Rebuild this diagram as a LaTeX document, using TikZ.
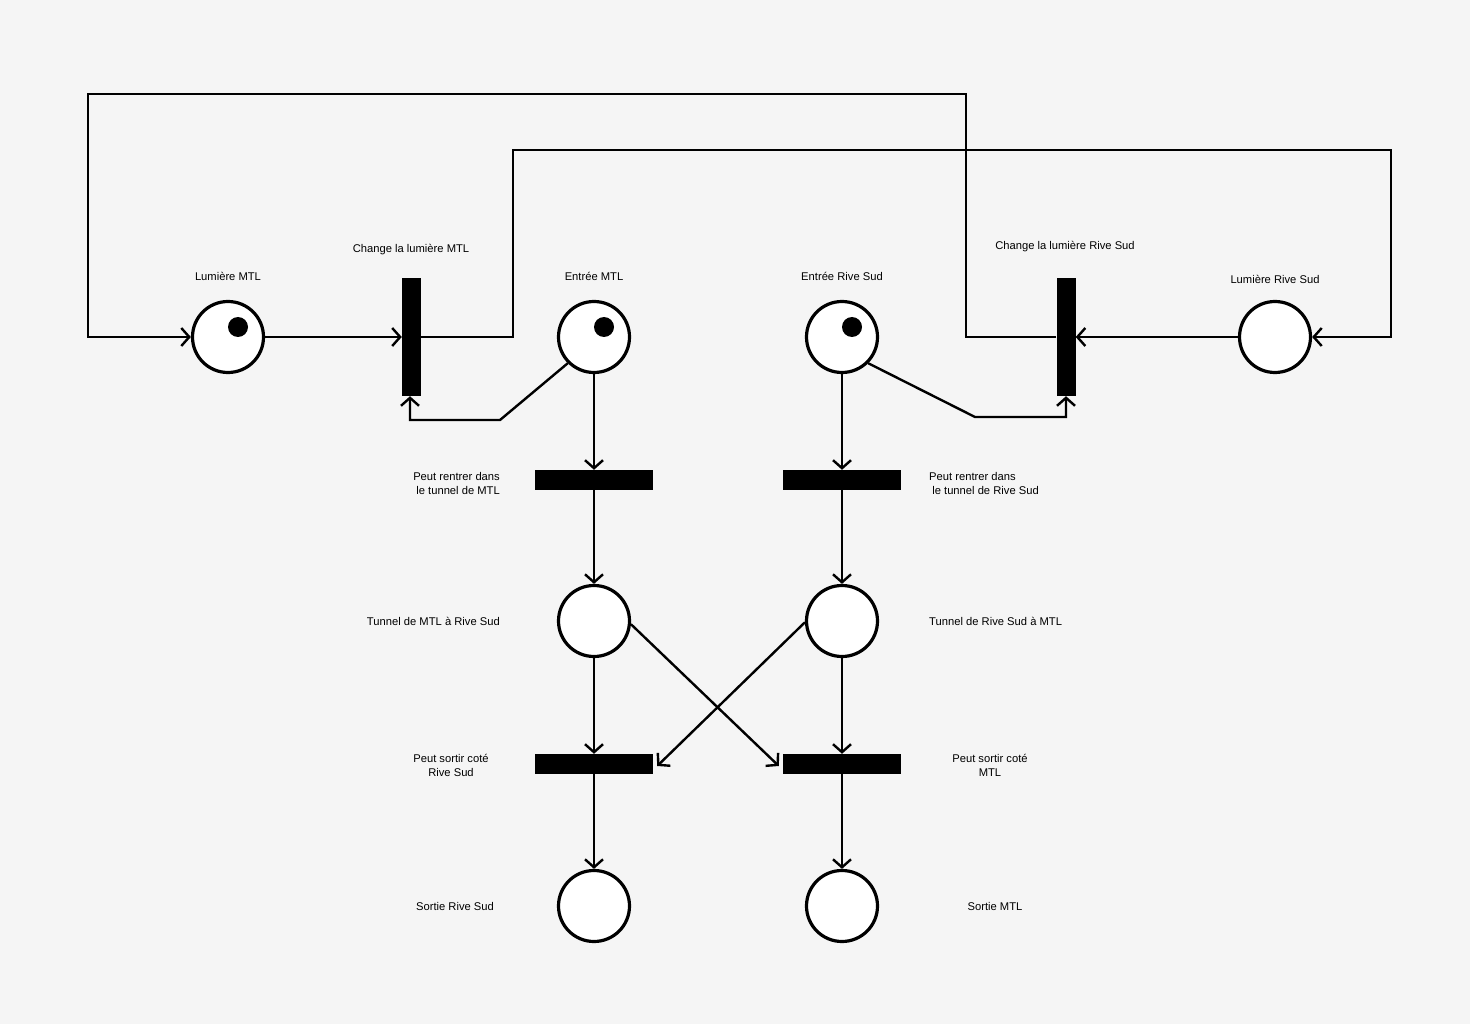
\documentclass[tikz,border=0pt]{standalone}
\usepackage{fontspec}
\setmainfont{Liberation Sans}
\usetikzlibrary{arrows.meta}
\definecolor{bg}{HTML}{F5F5F5}
\tikzset{
  place/.style={circle, draw=black, line width=3.2pt, fill=white, minimum size=71pt, inner sep=0pt},
  token/.style={circle, fill=black, minimum size=20pt, inner sep=0pt},
  vtrans/.style={rectangle, fill=black, minimum width=19pt, minimum height=118pt, inner sep=0pt},
  htrans/.style={rectangle, fill=black, minimum width=118pt, minimum height=20pt, inner sep=0pt},
  lbl/.style={font=\fontsize{11.2}{14}\selectfont, inner sep=0pt},
  arc/.style={line width=2.4pt, -{Straight Barb[length=8pt,width=18pt,line width=2.4pt]}},
  plain/.style={line width=2.4pt}
}
\begin{document}
\begin{tikzpicture}[x=1pt,y=-1pt]
\fill[bg] (0,0) rectangle (1470,1024);
\useasboundingbox (0,0) rectangle (1470,1024);

% places
\node[place] (lumMTL) at (228,337) {};
\node[place] (entMTL) at (594,337) {};
\node[place] (entRS) at (842,337) {};
\node[place] (lumRS) at (1275,337) {};
\node[place] (tunMTL) at (594,621) {};
\node[place] (tunRS) at (842,621) {};
\node[place] (sorRS) at (594,906) {};
\node[place] (sorMTL) at (842,906) {};

% tokens
\node[token] (tk1) at (238,327) {};
\node[token] (tk2) at (604,327) {};
\node[token] (tk3) at (852,327) {};

% transitions
\node[vtrans] (chMTL) at (411.5,337) {};
\node[vtrans] (chRS) at (1066,337) {};
\node[htrans] (inMTL) at (594,480) {};
\node[htrans] (inRS) at (842,480) {};
\node[htrans] (outRS) at (594,764) {};
\node[htrans] (outMTL) at (842,764) {};

% labels
\node[lbl] (l1) at (228,276) {Lumière MTL};
\node[lbl] (l2) at (411,250) {Change la lumière MTL};
\node[lbl] (l3) at (594,276) {Entrée MTL};
\node[lbl] (l4) at (842,276) {Entrée Rive Sud};
\node[lbl] (l5) at (1065,247) {Change la lumière Rive Sud};
\node[lbl] (l6) at (1275,279) {Lumière Rive Sud};
\node[lbl, anchor=east, align=right] (l7) at (500,483) {Peut rentrer dans\\le tunnel de MTL};
\node[lbl, anchor=west, align=left] (l8) at (929,483) {Peut rentrer dans\\\ le tunnel de Rive Sud};
\node[lbl, anchor=east] (l9) at (500,621) {Tunnel de MTL à Rive Sud};
\node[lbl, anchor=west] (l10) at (929,621) {Tunnel de Rive Sud à MTL};
\node[lbl, align=center] (l11) at (451,765) {Peut sortir coté\\Rive Sud};
\node[lbl, align=center] (l12) at (990,765) {Peut sortir coté\\MTL};
\node[lbl] (l13) at (455,906) {Sortie Rive Sud};
\node[lbl] (l14) at (995,906) {Sortie MTL};

% helper coordinates
\coordinate (c1) at (966,94);
\coordinate (c2) at (88,94);
\coordinate (c3) at (513,150);
\coordinate (c4) at (1391,150);
\coordinate (k1) at (500,420);
\coordinate (k2) at (975,417);

% connectors
\draw[arc] (chRS.west) -| (c1) -- (c2) |- (lumMTL.west);
\draw[arc] (lumMTL) -- (chMTL.west);
\draw[arc] (chMTL.east) -| (c3) -- (c4) |- (lumRS.east);
\draw[arc] (lumRS) -- (chRS.east);
\draw[arc] (entMTL.225) -- (k1) -| ([xshift=-1.5pt]chMTL.south);
\draw[arc] (entRS.-45) -- (k2) -| (chRS.south);
\draw[arc] (entMTL) -- (inMTL.north);
\draw[arc] (entRS) -- (inRS.north);
\draw[arc] (inMTL.south) -- (tunMTL);
\draw[arc] (inRS.south) -- (tunRS);
\draw[arc] (tunMTL) -- (outRS.north);
\draw[arc] (tunRS) -- (outMTL.north);
\draw[arc] (tunMTL.-5) -- ([xshift=-4pt,yshift=-2pt]outMTL.west);
\draw[arc] (tunRS.182) -- ([xshift=4pt,yshift=-2pt]outRS.east);
\draw[arc] (outRS.south) -- (sorRS);
\draw[arc] (outMTL.south) -- (sorMTL);
\end{tikzpicture}
\end{document}
